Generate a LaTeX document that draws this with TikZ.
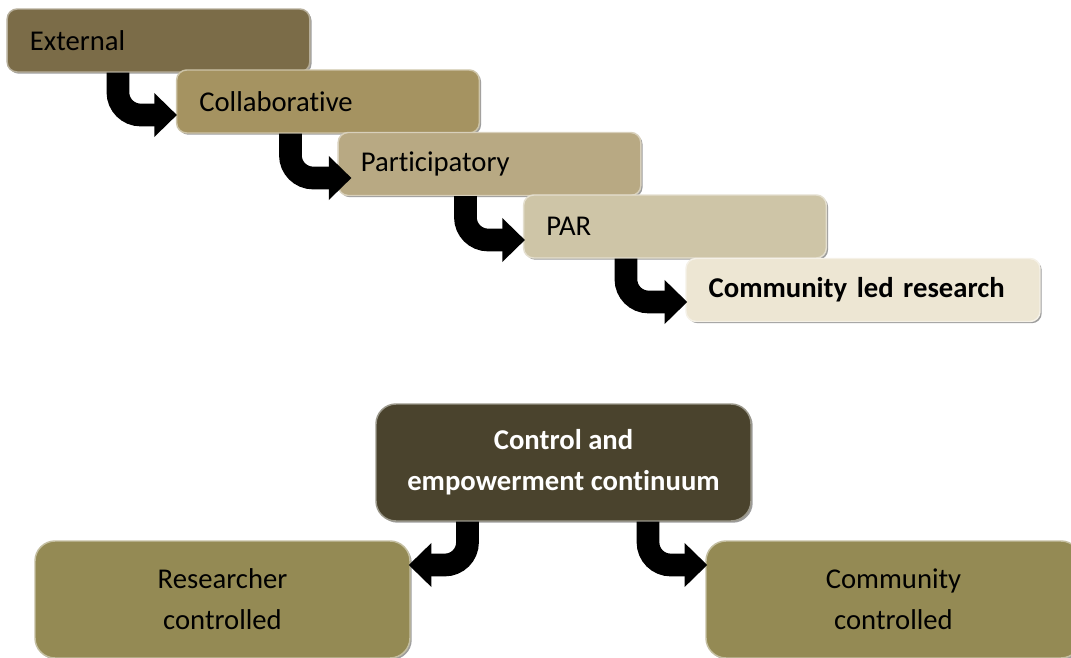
\documentclass[tikz,border=0pt]{standalone}
\usepackage{fontspec}
\setmainfont{Carlito}[Ligatures=NoCommon]
\usetikzlibrary{arrows.meta,calc,shadows}

\definecolor{extfill}{RGB}{123,108,72}
\definecolor{collfill}{RGB}{165,147,97}
\definecolor{partfill}{RGB}{184,169,131}
\definecolor{parfill}{RGB}{206,197,167}
\definecolor{ledfill}{RGB}{237,230,211}
\definecolor{ctrlfill}{RGB}{74,67,45}
\definecolor{sidefill}{RGB}{148,138,84}

\tikzset{every picture/.style={line width=0.75pt}}
\tikzset{
  boxshadow/.style={drop shadow={shadow xshift=1.3pt, shadow yshift=-1.3pt, opacity=0.55, fill=black!70}},
  stepbox/.style={boxshadow, fill=#1, draw=#1!55!white, line width=1.1pt,
    rounded corners=7.5pt, inner xsep=17pt, inner ysep=0pt,
    minimum height=47.25pt, text width=193pt, align=left,
    font=\fontsize{21.5}{26}\selectfont},
  sidebox/.style={boxshadow, fill=#1, draw=#1!55!white, line width=1.1pt,
    rounded corners=15pt, inner sep=0pt,
    minimum width=281.25pt, minimum height=87.75pt, align=center,
    font=\fontsize{21.5}{30.75}\selectfont},
  bentarrow/.style={line width=17pt, rounded corners=17pt,
    -{Triangle[length=17pt,width=32pt]}}
}

\begin{document}
\begin{tikzpicture}[x=0.75pt,y=0.75pt,yscale=-1.0,xscale=1.0]
    \useasboundingbox (0,0) rectangle (1071,657);

    % Text Node
    \node [stepbox=extfill] (ext) at (158.5,40.5) {External};
    % Text Node
    \node [stepbox=collfill] (coll) at (328,101.5) {Collaborative};
    % Text Node
    \node [stepbox=partfill] (part) at (489.5,164) {Participatory};
    % Text Node
    \node [stepbox=parfill] (par) at (675,226.5) {PAR};
    % Text Node
    \node [stepbox=ledfill, text width=231.5pt] (led) at (863,290) {\textbf{Community led research}};

    % Text Node
    \node [sidebox=ctrlfill, text=white, font=\fontsize{21.5}{30.75}\selectfont\bfseries] (ctrl) at (563.5,462.5) {Control and\\empowerment continuum};
    % Text Node
    \node [sidebox=sidefill] (res) at (222.5,599.5) {Researcher\\controlled};
    % Text Node
    \node [sidebox=sidefill] (comm) at (893.5,599.5) {Community\\controlled};

    % Connection
    \draw [bentarrow] ($(ext.south west)+(111.5,0)$) |- ($(coll.west)+(1,13.5)$);
    % Connection
    \draw [bentarrow] ($(coll.south west)+(114.5,0)$) |- ($(part.west)+(14,14)$);
    % Connection
    \draw [bentarrow] ($(part.south west)+(128,0)$) |- ($(par.west)+(2,13.5)$);
    % Connection
    \draw [bentarrow] ($(par.south west)+(103,0)$) |- ($(led.west)+(2,12)$);
    % Connection
    \draw [bentarrow] ($(ctrl.south)+(-96,0)$) |- ($(res.east)+(-2,-34.5)$);
    % Connection
    \draw [bentarrow] ($(ctrl.south)+(84.5,0)$) |- ($(comm.west)+(2,-34.5)$);
\end{tikzpicture}
\end{document}
